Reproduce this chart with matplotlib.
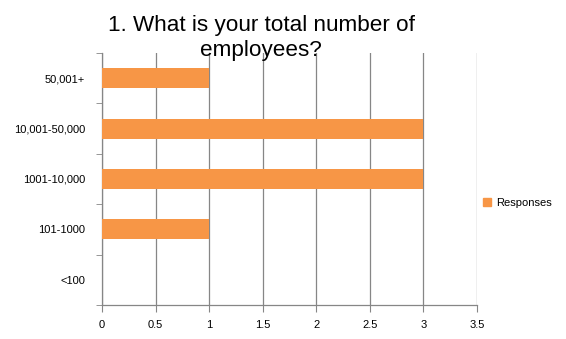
import matplotlib.pyplot as plt
from matplotlib.patches import Patch
import numpy as np

categories = ['<100', '101-1000', '1001-10,000', '10,001-50,000', '50,001+']
responses = [0, 1, 3, 3, 1]
xticks = [0, 0.5, 1, 1.5, 2, 2.5, 3, 3.5]
title = '1. What is your total number of\nemployees?'
series_name = 'Responses'

def main():
    plt.rcParams['font.family'] = ['Liberation Sans', 'DejaVu Sans']
    W, H = 566, 339
    fig = plt.figure(figsize=(W / 100, H / 100), dpi=100)
    ax = fig.add_axes([102 / W, 1 - 305 / H, (477 - 102) / W, (305 - 53) / H])

    grey = '#868686'
    bar_color = '#F79646'
    y = np.arange(len(categories))
    ax.barh(y, responses, height=0.4, color=bar_color, zorder=3)

    ax.set_xlim(0, 3.5)
    ax.set_ylim(-0.5, len(categories) - 0.5)
    ax.set_xticks(xticks)
    ax.set_xticklabels(['0', '0.5', '1', '1.5', '2', '2.5', '3', '3.5'])
    ax.xaxis.grid(True, color=grey, linewidth=0.9, zorder=0)
    ax.tick_params(axis='x', length=5, color=grey, labelsize=8, pad=6)

    ax.set_yticks(y)
    ax.set_yticklabels(categories)
    ax.set_yticks(np.arange(-0.5, len(categories)), minor=True)
    ax.tick_params(axis='y', which='major', length=0, labelsize=8, pad=12)
    ax.tick_params(axis='y', which='minor', length=4, color=grey)

    for s in ['top', 'right']:
        ax.spines[s].set_visible(False)
    for s in ['left', 'bottom']:
        ax.spines[s].set_color(grey)
        ax.spines[s].set_linewidth(0.9)

    fig.text(261 / W, 1 - 38 / H, title, ha='center', va='center',
             fontsize=16.2, linespacing=1.25)

    ax.legend(handles=[Patch(color=bar_color, label=series_name)],
              loc='center left', bbox_to_anchor=(483 / W, 1 - 203 / H),
              bbox_transform=fig.transFigure, frameon=False, fontsize=8,
              handlelength=0.7, handleheight=0.7, handletextpad=0.5,
              borderpad=0, borderaxespad=0)

    fig.savefig('out.png', dpi=100)

if __name__ == '__main__':
    main()
